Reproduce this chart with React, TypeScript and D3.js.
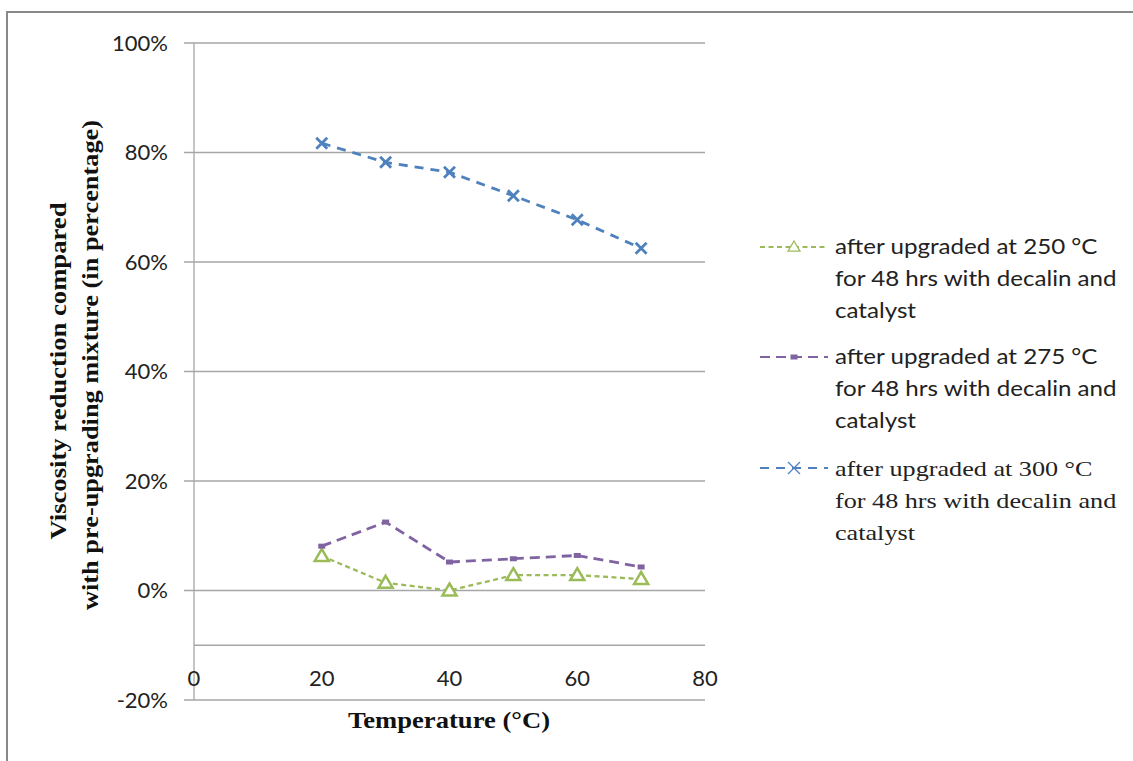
import React from 'react';
import * as d3 from 'd3';

const temps = [20, 30, 40, 50, 60, 70];
const s250 = [6.3, 1.4, 0.0, 2.8, 2.8, 2.1];
const s275 = [8.1, 12.5, 5.2, 5.8, 6.4, 4.3];
const s300 = [81.7, 78.2, 76.4, 72.1, 67.7, 62.5];
const yTicks = [100, 80, 60, 40, 20, 0, -20];
const xTicks = [0, 20, 40, 60, 80];
const seriesNames = [
  ['after upgraded at 250 °C', 'for 48 hrs with decalin and', 'catalyst'],
  ['after upgraded at 275 °C', 'for 48 hrs with decalin and', 'catalyst'],
  ['after upgraded at 300 °C', 'for 48 hrs with decalin and', 'catalyst'],
];

const W = 1133;
const H = 761;
const sans = 'Lato, Carlito, Calibri, sans-serif';
const serif = '"Liberation Serif", "Times New Roman", serif';

const x = d3.scaleLinear().domain([0, 80]).range([194, 705]);
const y = d3.scaleLinear().domain([-20, 100]).range([700, 43]);

const series = [
  { values: s250, color: '#9BBB59', dash: '5,3.5', width: 2.3, marker: 'tri', font: sans, size: 21, sx: 1.15 },
  { values: s275, color: '#8064A2', dash: '10,6', width: 2.8, marker: 'rect', font: sans, size: 21, sx: 1.15 },
  { values: s300, color: '#4F81BD', dash: '9,7', width: 2.8, marker: 'x', font: serif, size: 22, sx: 1.19 },
];

const Marker = ({ kind, cx, cy, color, legend }: any) => {
  if (kind === 'tri') {
    const r = legend ? 6 : 7;
    return (
      <path
        d={`M${cx},${cy - r}L${cx + r},${cy + r * 0.7}L${cx - r},${cy + r * 0.7}Z`}
        fill="white"
        stroke={color}
        strokeWidth={legend ? 1.3 : 2.5}
      />
    );
  }
  if (kind === 'rect') {
    return <rect x={cx - 3.5} y={cy - 2.5} width={7} height={5} fill={color} />;
  }
  const r = legend ? 6 : 5.5;
  return (
    <path
      d={`M${cx - r},${cy - r}L${cx + r},${cy + r}M${cx - r},${cy + r}L${cx + r},${cy - r}`}
      stroke={color}
      strokeWidth={legend ? 1.3 : 2.8}
    />
  );
};

export default function App() {
  const line = d3
    .line<number>()
    .x((_, i) => x(temps[i]))
    .y((d) => y(d));

  return (
    <svg width={W} height={H} style={{ position: 'absolute', left: 0, top: 0, background: 'white' }}>
      <rect x={7} y={12} width={W + 10} height={H + 10} fill="white" stroke="#898989" strokeWidth={2} />

      {/* grid + y ticks */}
      {yTicks.map((t) => (
        <g key={t}>
          <line x1={184} x2={705} y1={y(t)} y2={y(t)} stroke="#a6a6a6" strokeWidth={1.3} />
          <text x={168} y={y(t)} dy="0.35em" textAnchor="end" fontFamily={sans} fontSize={22} fill="#222">
            {t}%
          </text>
        </g>
      ))}
      {/* horizontal axis crossing */}
      <line x1={194} x2={705} y1={y(-10)} y2={y(-10)} stroke="#a6a6a6" strokeWidth={1.3} />
      <line x1={194} x2={194} y1={y(100)} y2={y(-20)} stroke="#a6a6a6" strokeWidth={1.3} />

      {xTicks.map((t) => (
        <text key={t} x={x(t)} y={678} dy="0.35em" textAnchor="middle" fontFamily={sans} fontSize={22} fill="#222">
          {t}
        </text>
      ))}

      {/* series */}
      {series.map((s, k) => (
        <g key={k}>
          <path d={line(s.values) || ''} fill="none" stroke={s.color} strokeWidth={s.width} strokeDasharray={s.dash} />
          {s.values.map((v, i) => (
            <Marker key={i} kind={s.marker} cx={x(temps[i])} cy={y(v)} color={s.color} />
          ))}
        </g>
      ))}

      {/* legend */}
      {series.map((s, k) => {
        const ly = [247, 357, 468][k];
        return (
          <g key={k}>
            <line x1={760} x2={828} y1={ly} y2={ly} stroke={s.color} strokeWidth={2} strokeDasharray={s.dash} />
            <Marker kind={s.marker} cx={794} cy={ly} color={s.color} legend />
            {seriesNames[k].map((txt, j) => (
              <text
                key={j}
                transform={`translate(835,${ly + j * 32}) scale(${s.sx},1)`}
                dy="0.35em"
                fontFamily={s.font}
                fontSize={s.size}
                fill="#222"
              >
                {txt}
              </text>
            ))}
          </g>
        );
      })}

      {/* axis titles */}
      <text
        x={449}
        y={720}
        dy="0.35em"
        textAnchor="middle"
        fontFamily={serif}
        fontWeight="bold"
        fontSize={23}
        textLength={202}
        lengthAdjust="spacingAndGlyphs"
        fill="#111"
      >
        Temperature (°C)
      </text>
      <g transform="translate(58,371) rotate(-90)">
        <text
          x={0}
          y={0}
          dy="0.35em"
          textAnchor="middle"
          fontFamily={serif}
          fontWeight="bold"
          fontSize={23}
          textLength={337}
          lengthAdjust="spacingAndGlyphs"
          fill="#111"
        >
          Viscosity reduction compared
        </text>
      </g>
      <g transform="translate(90,365) rotate(-90)">
        <text
          x={0}
          y={0}
          dy="0.35em"
          textAnchor="middle"
          fontFamily={serif}
          fontWeight="bold"
          fontSize={23}
          textLength={490}
          lengthAdjust="spacingAndGlyphs"
          fill="#111"
        >
          with pre-upgrading mixture (in percentage)
        </text>
      </g>
    </svg>
  );
}
